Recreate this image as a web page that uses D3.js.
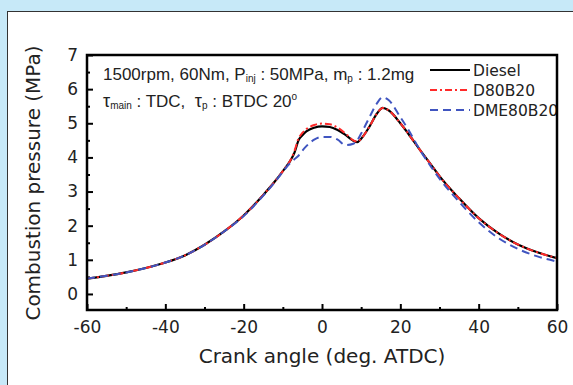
<!DOCTYPE html>
<html><head><meta charset="utf-8">
<script src="https://cdn.jsdelivr.net/npm/d3@7"></script>
<style>
html,body{margin:0;padding:0;background:#c7e9f8;}
svg{display:block;}
</style></head>
<body>
<svg id="chart" width="573" height="385"></svg>
<script>
const angles  = [-60,-55,-50,-45,-40,-35,-30,-25,-20,-15,-12,-10,-8,-7,-6,-5,-4,-2,0,2,4,6,8,9,10,12,14,15.5,17,20,22,25,28,30,35,40,45,50,55,60];
const diesel  = [0.45,0.53,0.63,0.76,0.92,1.13,1.44,1.83,2.3,2.9,3.3,3.6,3.92,4.15,4.5,4.65,4.76,4.87,4.91,4.89,4.8,4.66,4.49,4.45,4.55,4.88,5.28,5.45,5.38,5.0,4.7,4.22,3.76,3.45,2.8,2.22,1.78,1.45,1.22,1.05];
const d80b20  = [0.45,0.53,0.63,0.76,0.92,1.13,1.44,1.83,2.3,2.9,3.3,3.6,3.93,4.2,4.55,4.72,4.83,4.95,4.99,4.97,4.87,4.7,4.5,4.46,4.55,4.88,5.28,5.45,5.38,5.0,4.7,4.22,3.76,3.45,2.8,2.22,1.78,1.45,1.22,1.05];
const dme80b20= [0.45,0.53,0.63,0.76,0.92,1.13,1.44,1.83,2.28,2.88,3.28,3.58,3.85,3.95,4.05,4.2,4.33,4.52,4.6,4.6,4.52,4.36,4.4,4.5,4.7,5.15,5.58,5.76,5.68,5.18,4.82,4.22,3.7,3.38,2.7,2.1,1.64,1.32,1.1,0.95];
const seriesNames = ["Diesel","D80B20","DME80B20"];
const xTicks = [-60,-40,-20,0,20,40,60];
const yTicks = [0,1,2,3,4,5,6,7];

const svg = d3.select("#chart");
svg.append("rect").attr("x",7.5).attr("y",11.5).attr("width",580).attr("height",390)
  .attr("fill","#fff").attr("stroke","#333").attr("stroke-width",1);

const L=87, R=557, T=55, B=310;
const x = d3.scaleLinear().domain([-60,60]).range([L,R]);
const y = d3.scaleLinear().domain([-0.47,7]).range([B,T]);

const font="DejaVu Sans, Verdana, sans-serif";
const fmt = d => String(d);

svg.append("clipPath").attr("id","clip").append("rect").attr("x",L).attr("y",T).attr("width",R-L).attr("height",B-T);

const xAx = svg.append("g").attr("transform",`translate(0,${B})`)
  .call(d3.axisBottom(x).tickValues(xTicks).tickSizeInner(-6).tickSizeOuter(0).tickPadding(11).tickFormat(fmt));
xAx.select(".domain").remove();
xAx.selectAll("line").attr("stroke","#000").attr("stroke-width",2);
xAx.selectAll("text").attr("font-family",font).attr("font-size",17).attr("fill","#222");
svg.append("g").attr("transform",`translate(0,${B})`)
  .call(d3.axisBottom(x).tickValues(d3.range(-50,60,20)).tickSizeInner(-3).tickSizeOuter(0).tickFormat(""))
  .call(g=>{g.select(".domain").remove(); g.selectAll("line").attr("stroke","#000").attr("stroke-width",2);});

const yAx = svg.append("g").attr("transform",`translate(${L},0)`)
  .call(d3.axisLeft(y).tickValues(yTicks).tickSizeInner(-6).tickSizeOuter(0).tickPadding(9).tickFormat(fmt));
yAx.select(".domain").remove();
yAx.selectAll("line").attr("stroke","#000").attr("stroke-width",2);
yAx.selectAll("text").attr("font-family",font).attr("font-size",17).attr("fill","#222");
svg.append("g").attr("transform",`translate(${L},0)`)
  .call(d3.axisLeft(y).tickValues(d3.range(0.5,7,1)).tickSizeInner(-3).tickSizeOuter(0).tickFormat(""))
  .call(g=>{g.select(".domain").remove(); g.selectAll("line").attr("stroke","#000").attr("stroke-width",2);});

const line = d3.line().x(d=>x(d[0])).y(d=>y(d[1])).curve(d3.curveMonotoneX);
const styles = [
  {data:diesel, color:"#000", dash:null, w:2.2},
  {data:d80b20, color:"#ff2a2a", dash:"7,3,2,3", w:2},
  {data:dme80b20, color:"#4055c0", dash:"8,5", w:2}
];
const lg = svg.append("g").attr("clip-path","url(#clip)");
styles.forEach(s=>{
  lg.append("path").attr("d", line(angles.map((a,i)=>[a,s.data[i]])))
    .attr("fill","none").attr("stroke",s.color).attr("stroke-width",s.w)
    .attr("stroke-dasharray",s.dash);
});

const legY=[70,90,110];
styles.forEach((s,i)=>{
  svg.append("line").attr("x1",430).attr("x2",470).attr("y1",legY[i]).attr("y2",legY[i])
    .attr("stroke",s.color).attr("stroke-width",s.w).attr("stroke-dasharray",s.dash);
  svg.append("text").attr("x",473).attr("y",legY[i]+5.5).attr("font-family",font).attr("font-size",15.5)
    .attr("fill","#222").text(seriesNames[i]);
});

svg.append("rect").attr("x",L).attr("y",T).attr("width",R-L).attr("height",B-T)
  .attr("fill","none").attr("stroke","#000").attr("stroke-width",2.5);

const af="Liberation Sans, Arial, sans-serif";
const t1 = svg.append("text").attr("x",103).attr("y",80).attr("font-family",af).attr("font-size",17).attr("fill","#222").attr("xml:space","preserve").style("white-space","pre");
t1.append("tspan").text("1500rpm, 60Nm, P");
t1.append("tspan").attr("font-size",10).attr("dy",2).text("inj");
t1.append("tspan").attr("dy",-2).text(" : 50MPa, m");
t1.append("tspan").attr("font-size",10).attr("dy",2).text("p");
t1.append("tspan").attr("dy",-2).text(" : 1.2mg");
const t2 = svg.append("text").attr("x",103).attr("y",107).attr("font-family",af).attr("font-size",17).attr("fill","#222").attr("xml:space","preserve").style("white-space","pre");
t2.append("tspan").attr("font-size",18).text("τ");
t2.append("tspan").attr("font-size",10).attr("dy",2).text("main");
t2.append("tspan").attr("dy",-2).text(" : TDC,  ");
t2.append("tspan").attr("font-size",18).text("τ");
t2.append("tspan").attr("font-size",10).attr("dy",2).text("p");
t2.append("tspan").attr("dy",-2).text(" : BTDC 20");
t2.append("tspan").attr("font-size",10).attr("dy",-7).text("o");

svg.append("text").attr("x",322).attr("y",363).attr("text-anchor","middle")
  .attr("font-family",font).attr("font-size",20).attr("fill","#222").text("Crank angle (deg. ATDC)");
svg.append("text").attr("transform","translate(40,183) rotate(-90)").attr("text-anchor","middle")
  .attr("font-family",font).attr("font-size",20).attr("fill","#222").text("Combustion pressure (MPa)");
</script>
</body></html>
